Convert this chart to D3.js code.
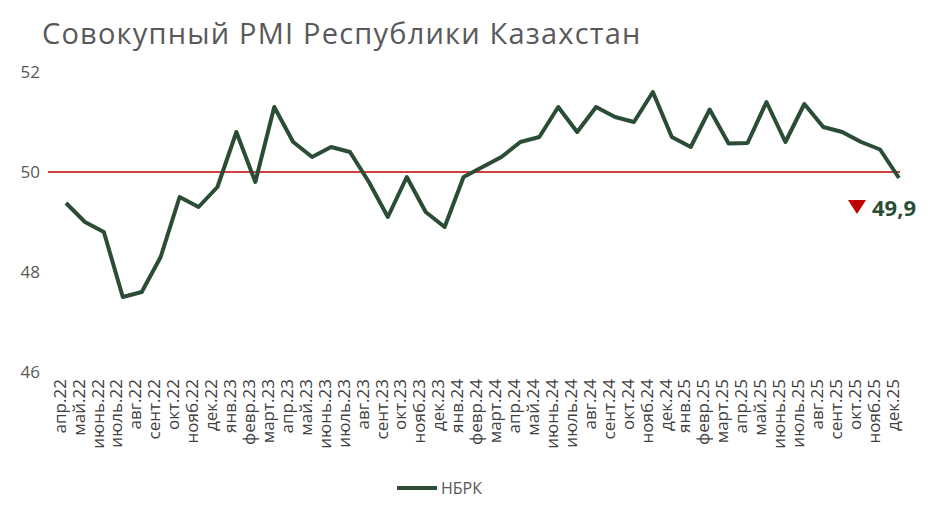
<!DOCTYPE html>
<html><head><meta charset="utf-8">
<script src="https://cdn.jsdelivr.net/npm/d3@7"></script>
<style>body{margin:0;background:#fff;font-family:"Open Sans",sans-serif}</style>
</head><body><div id="chart"></div>
<script>
var months = ["апр.22","май.22","июнь.22","июль.22","авг.22","сент.22","окт.22","нояб.22","дек.22",
"янв.23","февр.23","март.23","апр.23","май.23","июнь.23","июль.23","авг.23","сент.23","окт.23","нояб.23","дек.23",
"янв.24","февр.24","март.24","апр.24","май.24","июнь.24","июль.24","авг.24","сент.24","окт.24","нояб.24","дек.24",
"янв.25","февр.25","март.25","апр.25","май.25","июнь.25","июль.25","авг.25","сент.25","окт.25","нояб.25","дек.25"];
var pmi = [49.38,49.0,48.8,47.5,47.6,48.3,49.5,49.3,49.7,
50.8,49.8,51.3,50.6,50.3,50.5,50.4,49.8,49.1,49.9,49.2,48.9,
49.9,50.1,50.3,50.6,50.7,51.3,50.8,51.3,51.1,51.0,51.6,50.7,
50.5,51.25,50.57,50.58,51.4,50.6,51.36,50.9,50.8,50.6,50.45,49.88];
var yTicks = [46,48,50,52];

var svg = d3.select("#chart").append("svg").attr("width",934).attr("height",519);

svg.append("text").attr("x",42).attr("y",44).text("Совокупный PMI Республики Казахстан")
  .style("font-size","29px").style("letter-spacing","1.2px").style("fill","#595959");

var x = d3.scalePoint().domain(months).range([66,899]);
var y = d3.scaleLinear().domain([46,52]).range([372,72]);

svg.append("g").attr("transform","translate(44,0)")
  .call(d3.axisLeft(y).tickValues(yTicks).tickFormat(d3.format("d")).tickSize(0).tickPadding(4))
  .call(g => g.select(".domain").remove())
  .selectAll("text").style("font-size","17px").style("fill","#595959").style("font-family","Open Sans");

svg.append("g").attr("transform","translate(0,374)")
  .call(d3.axisBottom(x).tickSize(0).tickPadding(6))
  .call(g => g.select(".domain").remove())
  .selectAll("text")
  .attr("transform","rotate(-90)").attr("dx","-0.3em").attr("dy","-0.4em")
  .style("text-anchor","end").style("font-size","17px").style("fill","#404040").style("font-family","Open Sans");

svg.append("line").attr("x1",48).attr("x2",900).attr("y1",y(50)).attr("y2",y(50))
  .attr("stroke","#c00000").attr("stroke-width",1.5);

var line = d3.line().x((d,i)=>x(months[i])).y(d=>y(d));
svg.append("path").datum(pmi).attr("d",line).attr("fill","none")
  .attr("stroke","#2b4d35").attr("stroke-width",4).attr("stroke-linejoin","round");

// annotation
var last = pmi[pmi.length-1];
svg.append("path").attr("d","M848,200 L866,200 L857,214 Z").attr("fill","#c00000");
svg.append("text").attr("x",872).attr("y",216).text(d3.format(".1f")(last).replace(".",","))
  .style("font-size","22px").style("font-weight","bold").style("fill","#2b4d35");

// legend
svg.append("line").attr("x1",397).attr("x2",437).attr("y1",488).attr("y2",488)
  .attr("stroke","#2b4d35").attr("stroke-width",4);
svg.append("text").attr("x",441).attr("y",494).text("НБРК")
  .style("font-size","16px").style("fill","#595959");
</script></body></html>
